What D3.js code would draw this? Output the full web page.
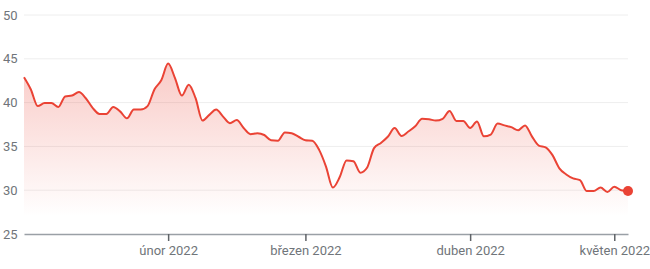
<!DOCTYPE html>
<html>
<head>
<meta charset="utf-8">
<script src="https://cdn.jsdelivr.net/npm/d3@7"></script>
<style>
  html, body { margin: 0; padding: 0; background: #fff; }
  svg { display: block; font-family: Roboto, "Noto Sans", Arial, sans-serif; }
</style>
</head>
<body>
<svg id="chart"></svg>
<script>
// DATA (one value per trading day, index 0 = first point)
const prices = [
  42.9, 41.5, 39.6, 39.95, 39.95, 39.5, 40.7, 40.8, 41.2, 40.5,
  39.4, 38.7, 38.7, 39.5, 39.0, 38.2, 39.2, 39.2, 39.6, 41.5,
  42.55, 44.45, 42.8, 40.8, 42.05, 40.5, 37.95, 38.6, 39.2, 38.4,
  37.65, 38.0, 37.1, 36.4, 36.5, 36.3, 35.7, 35.65, 36.6, 36.5,
  36.1, 35.7, 35.65, 34.6, 32.7, 30.3, 31.5, 33.4, 33.3, 32.0,
  32.6, 34.8, 35.4, 36.1, 37.1, 36.2, 36.7, 37.3, 38.15, 38.1,
  37.95, 38.15, 39.05, 37.9, 37.9, 37.1, 37.85, 36.15, 36.35, 37.6,
  37.4, 37.2, 36.85, 37.4, 36.15, 35.1, 34.9, 34.0, 32.5, 31.8,
  31.35, 31.15, 29.9, 29.9, 30.3, 29.8, 30.4, 30.0, 29.9
];
const monthTickIndex = [21, 41, 65, 86];
const monthTickLabels = ["únor 2022", "březen 2022", "duben 2022", "květen 2022"];
const yTicks = [25, 30, 35, 40, 45, 50];

const width = 650;
const height = 269;
const margin = { top: 15, right: 22, bottom: 35, left: 24 };

const svg = d3.select("#chart")
  .attr("width", width)
  .attr("height", height);

const x = d3.scaleLinear()
  .domain([0, prices.length - 1])
  .range([margin.left, width - margin.right]);

const y = d3.scaleLinear()
  .domain([25, 50])
  .range([height - margin.bottom, margin.top]);

// gradient for area
const grad = svg.append("defs").append("linearGradient")
  .attr("id", "fillGrad")
  .attr("x1", 0).attr("y1", 0).attr("x2", 0).attr("y2", 1)
  .attr("gradientUnits", "userSpaceOnUse")
  .attr("y1", y(44.5)).attr("y2", y(27));
grad.append("stop").attr("offset", 0).attr("stop-color", "#ea4335").attr("stop-opacity", 0.28);
grad.append("stop").attr("offset", 1).attr("stop-color", "#ea4335").attr("stop-opacity", 0);

// grid lines
svg.append("g")
  .selectAll("line")
  .data(yTicks.slice(1))
  .join("line")
  .attr("x1", margin.left)
  .attr("x2", width - margin.right)
  .attr("y1", d => y(d))
  .attr("y2", d => y(d))
  .attr("stroke", "#eeeeee")
  .attr("stroke-width", 1);

// y labels
svg.append("g")
  .selectAll("text")
  .data(yTicks)
  .join("text")
  .attr("x", 3)
  .attr("y", d => y(d))
  .attr("dy", "0.35em")
  .attr("fill", "#70757a")
  .attr("font-size", 13)
  .text(d => d);

// area + line
const area = d3.area()
  .x((d, i) => x(i))
  .y0(y(25))
  .y1(d => y(d))
  .curve(d3.curveMonotoneX);

const line = d3.line()
  .x((d, i) => x(i))
  .y(d => y(d))
  .curve(d3.curveMonotoneX);

svg.append("path")
  .datum(prices)
  .attr("fill", "url(#fillGrad)")
  .attr("d", area);

svg.append("path")
  .datum(prices)
  .attr("fill", "none")
  .attr("stroke", "#ea4335")
  .attr("stroke-width", 2)
  .attr("stroke-linejoin", "round")
  .attr("d", line);

// x axis
const xAxis = svg.append("g")
  .attr("transform", `translate(0, ${y(25)})`)
  .call(d3.axisBottom(x)
    .tickValues(monthTickIndex)
    .tickFormat((d, i) => monthTickLabels[i])
    .tickSize(7)
    .tickSizeOuter(0)
    .tickPadding(5));

xAxis.select(".domain")
  .attr("stroke", "#9aa0a6")
  .attr("stroke-width", 1.5);
xAxis.selectAll(".tick line")
  .attr("stroke", "#5f6368")
  .attr("stroke-width", 1.5);
xAxis.selectAll(".tick text")
  .attr("fill", "#70757a")
  .attr("font-size", 13)
  .attr("font-family", "Roboto, 'Noto Sans', Arial, sans-serif");

// last point marker
const lastIdx = prices.length - 1;
svg.append("circle")
  .attr("cx", x(lastIdx))
  .attr("cy", y(prices[lastIdx]))
  .attr("r", 5)
  .attr("fill", "#ea4335");
</script>
</body>
</html>
